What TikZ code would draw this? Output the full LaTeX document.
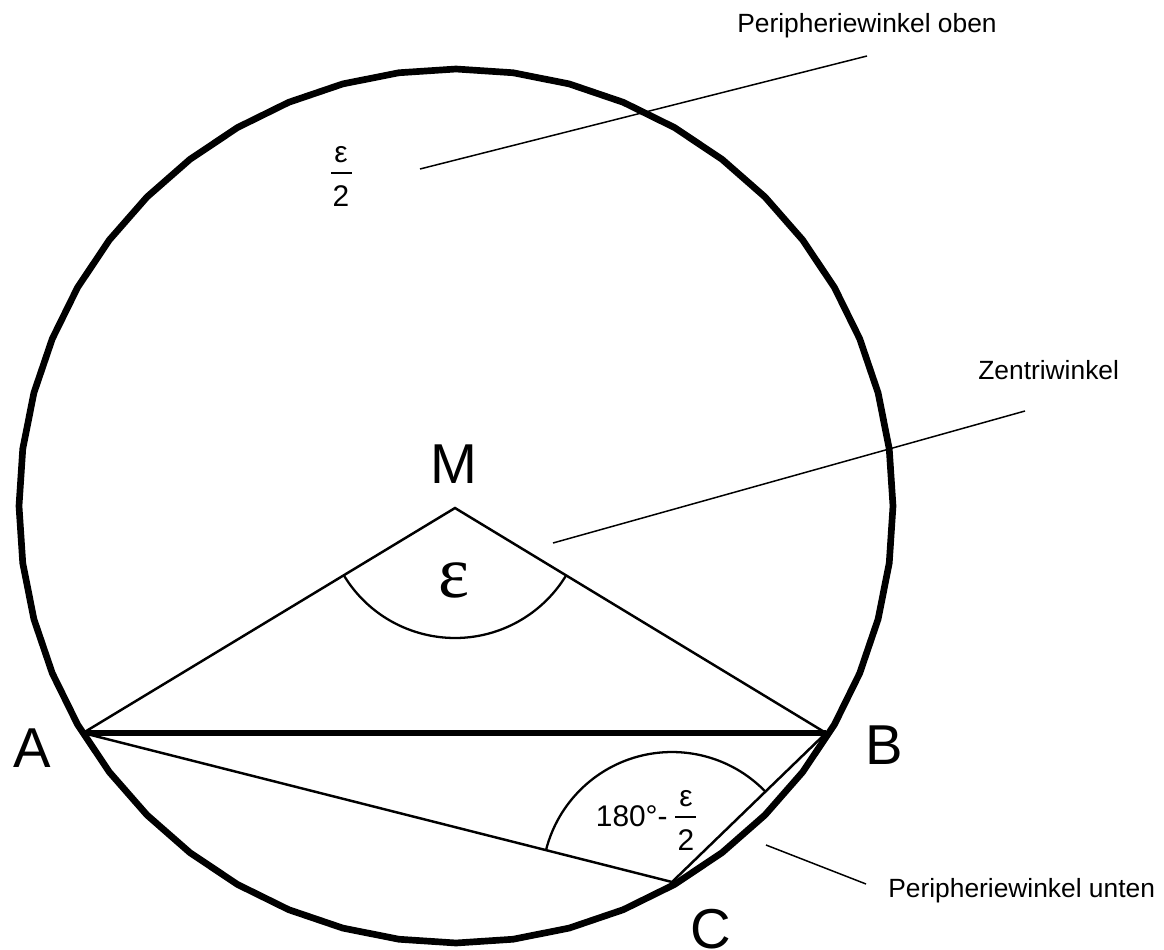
\documentclass[tikz,border=0pt]{standalone}
\usepackage{fontspec}
\setmainfont{Liberation Sans}
\newfontfamily\epsfont{Liberation Serif}
\usetikzlibrary{angles}
\tikzset{
  rim/.style={line width=3.8pt, line join=miter},
  chord/.style={line width=3.4pt},
  side/.style={line width=1.4pt},
  leader/.style={line width=0.85pt},
  anglearc/.style={draw, line width=1.3pt},
  fracbar/.style={line width=0.9pt},
  bigletter/.style={font=\fontsize{32}{38}\selectfont, inner sep=0pt, anchor=base},
  smalllabel/.style={font=\fontsize{15}{18}\selectfont, inner sep=0pt},
  fractext/.style={font=\fontsize{17}{20}\selectfont, inner sep=0pt, anchor=base},
}
\begin{document}
\begin{tikzpicture}[x=0.02cm,y=-0.02cm]
\useasboundingbox (0,0) rectangle (1164,950);
% circle drawn as a 48-gon
\draw[rim] plot[domain=0:352.5, samples=48] ({456+437*cos(\x)},{506-437*sin(\x)}) -- cycle;
% points
\coordinate (M) at (455,508);
\coordinate (A) at (83,733);
\coordinate (B) at (826,733);
\coordinate (C) at (672,882);
\draw[side] (A) -- (M) -- (B);
\draw[chord] (A) -- (B);
\draw[side] (A) -- (C) -- (B);
\pic[anglearc, angle radius=2.6cm] {angle=A--M--B};
\pic[anglearc, angle radius=2.6cm] {angle=B--C--A};
% point labels
\node[bigletter] (lM) at (454,483) {M};
\node[bigletter] (lA) at (32,767) {A};
\node[bigletter] (lB) at (884,764) {B};
\node[bigletter] (lC) at (711,948) {C};
% central angle
\node[font=\epsfont\fontsize{42}{48}\selectfont, inner sep=0pt] (eps) at (454,580) {ε};
% upper fraction
\node[fractext] (e1) at (341,162) {ε};
\draw[fracbar] (331,173) -- (352,173);
\node[fractext] (t1) at (341,206) {2};
% lower angle label
\node[fractext, anchor=base east] (deg) at (668,826) {180°-};
\node[fractext] (e2) at (686,806) {ε};
\draw[fracbar] (675,817) -- (696,817);
\node[fractext] (t2) at (686,850) {2};
% annotations
\node[smalllabel, anchor=base] (lo) at (867,32) {Peripheriewinkel oben};
\node[smalllabel, anchor=base west] (lz) at (978,379) {Zentriwinkel};
\node[smalllabel, anchor=base west] (lu) at (888,897) {Peripheriewinkel unten};
\coordinate (p1) at (420,169); \coordinate (p2) at (867,56);
\coordinate (z1) at (553,543); \coordinate (z2) at (1025,411);
\coordinate (u1) at (766,845); \coordinate (u2) at (866,884);
\draw[leader] (p1) -- (p2);
\draw[leader] (z1) -- (z2);
\draw[leader] (u1) -- (u2);
\end{tikzpicture}
\end{document}
